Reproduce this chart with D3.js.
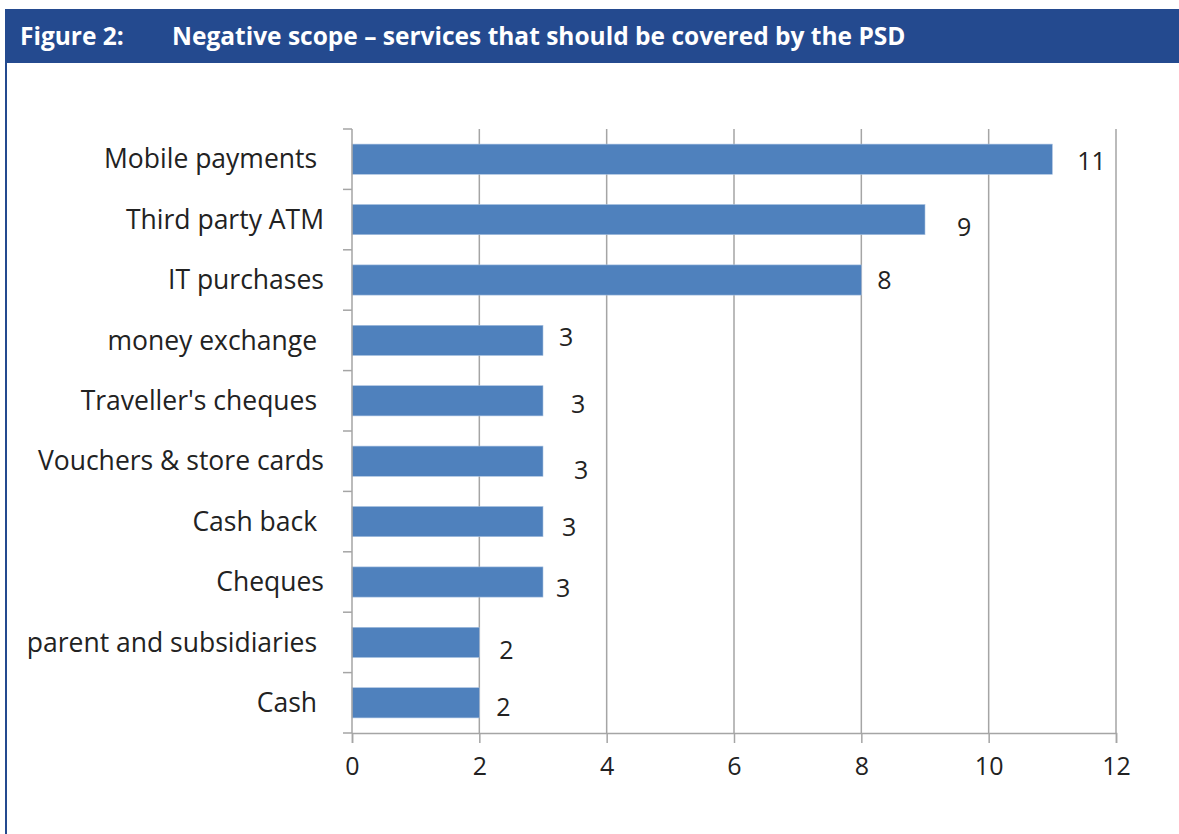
<!DOCTYPE html>
<html>
<head>
<meta charset="utf-8">
<script src="https://cdn.jsdelivr.net/npm/d3@7"></script>
<style>
  html, body { margin: 0; padding: 0; background: #fff; }
  svg { display: block; }
  svg text { white-space: pre; }
</style>
</head>
<body>
<svg id="chart" width="1179" height="834"></svg>
<script>
// Survey responses: services that should be brought within the PSD
const categories = [
  "Mobile payments ", "Third party ATM", "IT purchases", "money exchange ",
  "Traveller's cheques ", "Vouchers & store cards", "Cash back ", "Cheques",
  "parent and subsidiaries ", "Cash "
];
const responses = [11, 9, 8, 3, 3, 3, 3, 3, 2, 2];
const xTicks = [0, 2, 4, 6, 8, 10, 12];

// hand-placed data labels: [dx, dy] shifts from the default spot
const labelShift = [[5, 2], [12, 8], [-4, 0], [-4, -3], [8, 3], [11, 9], [-1, 6], [-7, 6], [0, 8], [-3, 4]];

const titleNumber = "Figure 2:";
const titleText = "Negative scope \u2013 services that should be covered by the PSD";

const svg = d3.select("#chart");
const W = 1179, H = 834;
const margin = { left: 352, right: W - 1116, top: 129, bottom: H - 733 };
const font = "'Open Sans', sans-serif";

// frame: header band and left rule
svg.append("rect").attr("x", 5).attr("y", 9).attr("width", W - 5).attr("height", 54).attr("fill", "#244A8F");
svg.append("rect").attr("x", 5).attr("y", 60).attr("width", 2).attr("height", H - 60).attr("fill", "#244A8F");
svg.append("text").attr("x", 20).attr("y", 45).attr("fill", "#fff")
  .attr("font-family", font).attr("font-weight", 700).attr("font-size", 24.5).text(titleNumber);
svg.append("text").attr("x", 172).attr("y", 45).attr("fill", "#fff")
  .attr("font-family", font).attr("font-weight", 700).attr("font-size", 24.5).text(titleText);

const x = d3.scaleLinear().domain([0, 12]).range([margin.left, W - margin.right]);
const y = d3.scaleBand().domain(categories).range([margin.top, H - margin.bottom]).paddingInner(0.5).paddingOuter(0.25);
const band = d3.scaleBand().domain(categories).range([margin.top, H - margin.bottom]);

const grid = "#A5A5A5";

// vertical gridlines
svg.append("g").selectAll("line").data(xTicks.filter(d => d > 0)).join("line")
  .attr("x1", d => x(d)).attr("x2", d => x(d))
  .attr("y1", margin.top).attr("y2", H - margin.bottom)
  .attr("stroke", grid).attr("stroke-width", 1.5);

// bars
svg.append("g").selectAll("rect").data(categories).join("rect")
  .attr("x", x(0))
  .attr("y", d => y(d))
  .attr("width", (d, i) => x(responses[i]) - x(0))
  .attr("height", y.bandwidth())
  .attr("fill", "#4F81BD")
  .attr("stroke", "#A9C1E0").attr("stroke-width", 0.6);

// x axis
const xAxis = svg.append("g").attr("transform", `translate(0,${H - margin.bottom})`)
  .call(d3.axisBottom(x).tickValues(xTicks).tickSize(10).tickPadding(14));
xAxis.select(".domain").attr("stroke", grid).attr("stroke-width", 1.5);
xAxis.selectAll(".tick line").attr("stroke", grid).attr("stroke-width", 1.5);
xAxis.selectAll(".tick text").attr("font-family", font).attr("font-size", 25).attr("fill", "#222");

// y axis with ticks at band boundaries
const yAxisG = svg.append("g");
yAxisG.append("line").attr("x1", x(0)).attr("x2", x(0))
  .attr("y1", margin.top).attr("y2", H - margin.bottom)
  .attr("stroke", grid).attr("stroke-width", 1.5);
const bounds = categories.map(c => band(c)).concat([H - margin.bottom]);
yAxisG.selectAll("line.tk").data(bounds).join("line").attr("class", "tk")
  .attr("x1", x(0) - 9).attr("x2", x(0))
  .attr("y1", d => d).attr("y2", d => d)
  .attr("stroke", grid).attr("stroke-width", 1.5);

// category labels
svg.append("g").selectAll("text").data(categories).join("text")
  .attr("x", x(0) - 28)
  .attr("y", d => band(d) + band.bandwidth() / 2)
  .attr("dy", "0.35em")
  .attr("text-anchor", "end")
  .attr("font-family", font).attr("font-size", 26.5).attr("fill", "#222")
  .text(d => d);

// data labels
svg.append("g").selectAll("text").data(categories).join("text")
  .attr("x", (d, i) => x(responses[i]) + 20 + labelShift[i][0])
  .attr("y", (d, i) => y(d) + y.bandwidth() / 2 + labelShift[i][1])
  .attr("dy", "0.35em")
  .attr("font-family", font).attr("font-size", 25).attr("fill", "#222")
  .text((d, i) => responses[i]);
</script>
</body>
</html>
